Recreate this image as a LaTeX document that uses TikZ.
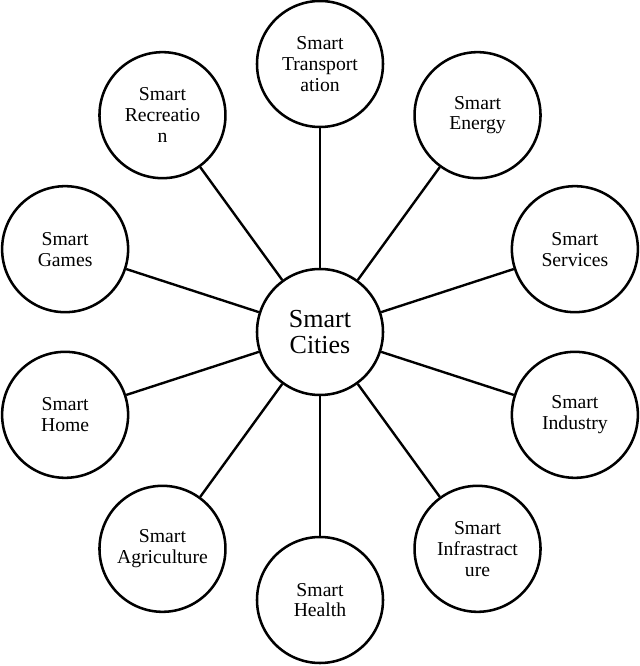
\documentclass[tikz,border=0pt]{standalone}
\usepackage{fontspec}
\setmainfont{Liberation Serif}
\usetikzlibrary{positioning,calc}

\begin{document}
\begin{tikzpicture}[
  every node/.style={align=center},
  hub/.style={circle, draw, line width=1.8pt, minimum size=3.15cm, inner sep=0pt,
    font=\fontsize{18.5}{18.5}\selectfont},
  sat/.style={circle, draw, line width=1.8pt, minimum size=3.15cm, inner sep=0pt,
    font=\fontsize{14}{14.8}\selectfont},
  spoke/.style={line width=1.7pt},
]
\useasboundingbox (0,0) rectangle (16,16.65);
\node[hub] (cities) at (8,8.35) {Smart\\Cities};
\foreach \a/\n/\t in {90/trans/{Smart\\Transport\\ation},
  54/energy/{Smart\\Energy},
  18/services/{Smart\\Services},
  -18/industry/{Smart\\Industry},
  -54/infra/{Smart\\Infrastract\\ure},
  -90/health/{Smart\\Health},
  -126/agri/{Smart\\Agriculture},
  -162/home/{Smart\\Home},
  162/games/{Smart\\Games},
  126/recr/{Smart\\Recreatio\\n}} {
  \node[sat] (\n) at ($(cities)+(\a:6.7)$) {\t};
  \draw[spoke] (cities) -- (\n);
}
\end{tikzpicture}
\end{document}
